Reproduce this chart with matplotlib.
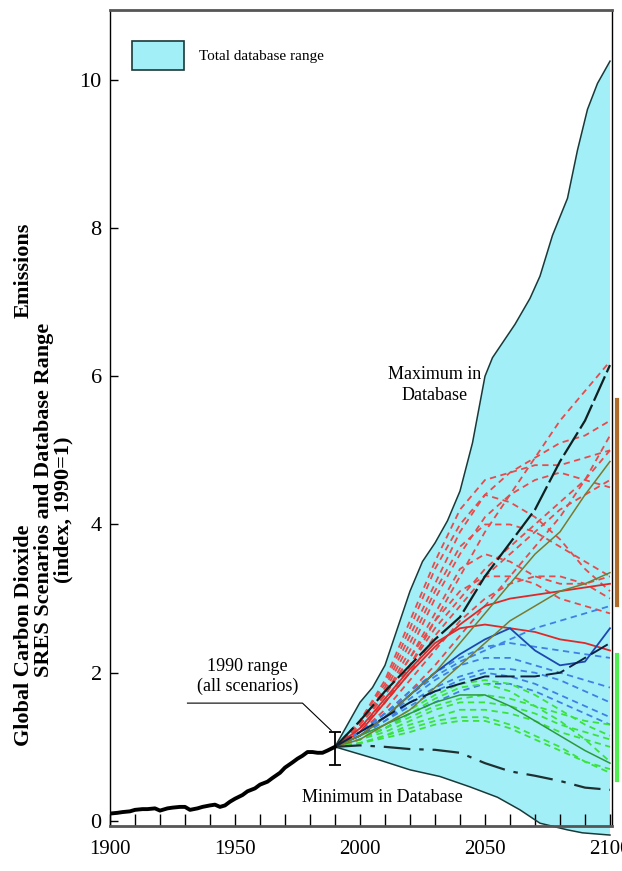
import matplotlib.pyplot as plt
from matplotlib.patches import Patch

plt.rcParams["font.family"] = ["Liberation Serif", "DejaVu Serif"]

# Historical emissions (index, 1990=1)
hist_years = [1900, 1903, 1905, 1908, 1910, 1913, 1915, 1918, 1920, 1923, 1925,
              1928, 1930, 1932, 1935, 1937, 1940, 1942, 1944, 1946, 1948,
              1950, 1953, 1955, 1958, 1960, 1963, 1965, 1968, 1970, 1973,
              1975, 1977, 1979, 1981, 1983, 1985, 1987, 1990]
hist_vals = [0.10, 0.11, 0.12, 0.13, 0.15, 0.16, 0.16, 0.17, 0.14, 0.17, 0.18,
             0.19, 0.19, 0.15, 0.17, 0.19, 0.21, 0.22, 0.19, 0.21, 0.26,
             0.30, 0.35, 0.40, 0.44, 0.49, 0.53, 0.58, 0.65, 0.72, 0.79,
             0.84, 0.88, 0.93, 0.93, 0.92, 0.92, 0.95, 1.00]

# Total database range
max_years = [1990, 1995, 2000, 2005, 2010, 2015, 2020, 2025, 2030, 2035, 2040,
             2045, 2050, 2053, 2056, 2062, 2068, 2072, 2077, 2083, 2087,
             2091, 2095, 2100]
max_vals = [1.0, 1.3, 1.6, 1.8, 2.1, 2.6, 3.1, 3.5, 3.75, 4.05, 4.45,
            5.1, 6.0, 6.25, 6.4, 6.7, 7.05, 7.35, 7.9, 8.4, 9.05,
            9.6, 9.95, 10.25]
min_years = [1990, 1996, 2008, 2020, 2032, 2044, 2055, 2064, 2072, 2083, 2089, 2100]
min_vals = [1.0, 0.94, 0.82, 0.69, 0.60, 0.46, 0.32, 0.15, -0.03, -0.12, -0.16, -0.19]

# Scenario trajectories, decadal
years = [1990, 2000, 2010, 2020, 2030, 2040, 2050, 2060, 2070, 2080, 2090, 2100]

red_dashed = [
    [1.0, 1.25, 1.6, 2.1, 2.7, 3.3, 3.9, 4.4, 4.9, 5.4, 5.8, 6.2],
    [1.0, 1.3, 1.8, 2.5, 3.2, 3.9, 4.4, 4.7, 4.9, 5.1, 5.2, 5.4],
    [1.0, 1.35, 1.9, 2.7, 3.5, 4.2, 4.6, 4.7, 4.8, 4.8, 4.9, 5.0],
    [1.0, 1.3, 1.7, 2.3, 3.0, 3.6, 4.1, 4.4, 4.6, 4.7, 4.6, 4.5],
    [1.0, 1.25, 1.6, 2.0, 2.5, 2.9, 3.3, 3.6, 3.9, 4.2, 4.4, 4.6],
    [1.0, 1.3, 1.75, 2.4, 3.1, 3.7, 4.0, 4.0, 3.9, 3.7, 3.5, 3.3],
    [1.0, 1.35, 1.85, 2.6, 3.4, 4.0, 4.4, 4.3, 4.1, 3.8, 3.4, 3.1],
    [1.0, 1.2, 1.5, 1.9, 2.3, 2.7, 3.0, 3.2, 3.3, 3.3, 3.2, 3.0],
    [1.0, 1.3, 1.7, 2.2, 2.7, 3.1, 3.3, 3.3, 3.2, 3.0, 2.9, 2.8],
    [1.0, 1.25, 1.6, 2.1, 2.6, 3.0, 3.4, 3.7, 4.0, 4.3, 4.6, 5.0],
    [1.0, 1.2, 1.45, 1.75, 2.1, 2.5, 2.9, 3.3, 3.7, 4.1, 4.6, 5.2],
    [1.0, 1.3, 1.7, 2.2, 2.8, 3.4, 3.6, 3.5, 3.3, 3.2, 3.2, 3.3],
]
red_solid = [
    [1.0, 1.2, 1.6, 2.0, 2.35, 2.65, 2.9, 3.0, 3.05, 3.1, 3.15, 3.2],
    [1.0, 1.25, 1.65, 2.05, 2.4, 2.6, 2.65, 2.6, 2.55, 2.45, 2.4, 2.3],
]
blue_dashed = [
    [1.0, 1.2, 1.45, 1.7, 1.95, 2.15, 2.3, 2.45, 2.6, 2.7, 2.8, 2.9],
    [1.0, 1.2, 1.45, 1.75, 2.0, 2.2, 2.35, 2.4, 2.35, 2.3, 2.25, 2.2],
    [1.0, 1.15, 1.35, 1.6, 1.8, 1.95, 2.05, 2.05, 2.0, 1.9, 1.75, 1.6],
    [1.0, 1.15, 1.35, 1.55, 1.75, 1.9, 2.0, 1.95, 1.85, 1.7, 1.55, 1.4],
    [1.0, 1.2, 1.4, 1.65, 1.9, 2.1, 2.2, 2.2, 2.1, 2.0, 1.9, 1.8],
    [1.0, 1.1, 1.25, 1.45, 1.6, 1.75, 1.85, 1.85, 1.75, 1.6, 1.45, 1.3],
]
blue_solid = [1.0, 1.15, 1.4, 1.7, 2.0, 2.25, 2.45, 2.6, 2.3, 2.1, 2.15, 2.6]
green_dashed = [
    [1.0, 1.1, 1.25, 1.4, 1.55, 1.65, 1.7, 1.65, 1.55, 1.45, 1.35, 1.3],
    [1.0, 1.1, 1.2, 1.35, 1.5, 1.6, 1.6, 1.55, 1.45, 1.3, 1.2, 1.1],
    [1.0, 1.05, 1.15, 1.3, 1.4, 1.5, 1.5, 1.45, 1.35, 1.2, 1.1, 1.0],
    [1.0, 1.1, 1.25, 1.45, 1.65, 1.8, 1.85, 1.75, 1.55, 1.35, 1.1, 0.8],
    [1.0, 1.05, 1.15, 1.25, 1.35, 1.4, 1.4, 1.3, 1.15, 1.0, 0.8, 0.65],
    [1.0, 1.1, 1.3, 1.5, 1.7, 1.85, 1.9, 1.85, 1.7, 1.5, 1.3, 1.15],
    [1.0, 1.05, 1.12, 1.2, 1.3, 1.35, 1.35, 1.25, 1.1, 0.95, 0.8, 0.7],
]
green_solid = [1.0, 1.15, 1.3, 1.45, 1.6, 1.7, 1.7, 1.55, 1.35, 1.15, 0.95, 0.78]
olive_solid = [
    [1.0, 1.15, 1.4, 1.7, 2.0, 2.4, 2.8, 3.2, 3.6, 3.9, 4.4, 4.85],
    [1.0, 1.1, 1.3, 1.5, 1.8, 2.1, 2.4, 2.7, 2.9, 3.1, 3.2, 3.35],
]
black_top = [1.0, 1.35, 1.75, 2.1, 2.45, 2.75, 3.3, 3.75, 4.2, 4.85, 5.4, 6.15]
black_mid = [1.0, 1.2, 1.4, 1.6, 1.75, 1.85, 1.95, 1.95, 1.95, 2.0, 2.2, 2.4]
black_low = [1.0, 1.02, 1.0, 0.97, 0.96, 0.92, 0.78, 0.67, 0.61, 0.54, 0.45, 0.42]

# 1990 range error bar
range_1990 = (1990, 1.0, 0.24, 0.20)
# Range bars at the right edge
brown_bar = (2.91, 5.68)
green_bar = (0.55, 2.24)

fig = plt.figure(figsize=(6.22, 8.71), dpi=100)
ax = fig.add_axes([0.1768, 0.0319, 0.8071, 0.9566])

fill_col = "#a2eff8"
ax.fill(max_years + min_years[::-1], max_vals + min_vals[::-1],
        color=fill_col, lw=0, zorder=1)
ax.plot(max_years, max_vals, color="#1a3a3a", lw=1.1, zorder=3)
ax.plot(min_years, min_vals, color="#1a3a3a", lw=1.1, zorder=3)

dash = (3.5, 2.5)
for s in red_dashed:
    ax.plot(years, s, color="#e84a4a", lw=1.3, dashes=dash, zorder=4)
for s in red_solid:
    ax.plot(years, s, color="#e02828", lw=1.3, zorder=4)
for s in blue_dashed:
    ax.plot(years, s, color="#3f80e6", lw=1.3, dashes=dash, zorder=4)
ax.plot(years, blue_solid, color="#1d48b0", lw=1.3, zorder=4)
for s in green_dashed:
    ax.plot(years, s, color="#3ce23c", lw=1.3, dashes=dash, zorder=4)
ax.plot(years, green_solid, color="#2a9a3a", lw=1.1, zorder=4)
for s in olive_solid:
    ax.plot(years, s, color="#7a7a30", lw=1.1, zorder=4)
ax.plot(years, black_top, color="#102020", lw=1.6, dashes=(12, 2), zorder=5)
ax.plot(years, black_mid, color="#102040", lw=1.4, dashes=(10, 3), zorder=5)
ax.plot(years, black_low, color="#203030", lw=1.6, dashes=(12, 4, 2, 4), zorder=5)

ax.plot(hist_years, hist_vals, color="black", lw=2.8, zorder=6)

yr, yv, ylo, yhi = range_1990
ax.errorbar([yr], [yv], yerr=[[ylo], [yhi]], color="black", lw=1.3,
            capsize=4, capthick=1.3, zorder=7)

ax.plot([2102.8, 2102.8], brown_bar, color="#b06a2a", lw=3, clip_on=False)
ax.plot([2102.8, 2102.8], green_bar, color="#50ee50", lw=3, clip_on=False)

# Annotations
ax.text(1955, 1.95, "1990 range\n(all scenarios)", ha="center", va="center",
        fontsize=13, linespacing=1.25)
ax.plot([1931, 1977, 1988.5], [1.59, 1.59, 1.22], color="black", lw=0.8)
ax.text(2030, 5.88, "Maximum in\nDatabase", ha="center", va="center",
        fontsize=13, linespacing=1.3, zorder=8)
ax.text(2009, 0.32, "Minimum in Database", ha="center", va="center",
        fontsize=13, zorder=8)

ax.legend(handles=[Patch(facecolor=fill_col, edgecolor="#1a3a3a", lw=1.2)],
          labels=["Total database range"], loc="upper left",
          bbox_to_anchor=(0.044, 0.963), frameon=False, fontsize=11,
          handlelength=3.4, handleheight=2.6, handletextpad=1.0,
          borderpad=0, borderaxespad=0)

ax.set_xlim(1900, 2100.8)
ax.set_ylim(-0.3, 10.94)
ax.set_xticks(range(1900, 2101, 50))
ax.set_xticks(range(1900, 2101, 10), minor=True)
ax.set_yticks(range(0, 11, 2))
ax.tick_params(axis="x", which="both", direction="in", length=9, width=1,
               labelsize=15, pad=10)
ax.tick_params(axis="y", direction="in", length=6, width=1, labelsize=16, pad=6)

ax.spines["bottom"].set_position(("data", -0.07))
ax.spines["bottom"].set_color("#555555")
ax.spines["bottom"].set_linewidth(2)
ax.spines["top"].set_color("#555555")
ax.spines["top"].set_linewidth(2)
ax.spines["left"].set_bounds(-0.07, 10.94)
ax.spines["left"].set_linewidth(1)
ax.spines["right"].set_linewidth(1)
ax.spines["right"].set_bounds(-0.07, 10.94)
for sp in ax.spines.values():
    sp.set_zorder(9)

# Y axis label, three bold lines
lab = dict(rotation=90, ha="center", va="center", fontsize=16, fontweight="bold")
fig.text(24 / 622, 1 - 635 / 871, "Global Carbon Dioxide", **lab)
fig.text(24 / 622, 1 - 270 / 871, "Emissions", **lab)
fig.text(44 / 622, 1 - 500 / 871, "SRES Scenarios and Database Range", **lab)
fig.text(63 / 622, 1 - 510 / 871, "(index, 1990=1)", **lab)

fig.savefig("out.png", dpi=100)
